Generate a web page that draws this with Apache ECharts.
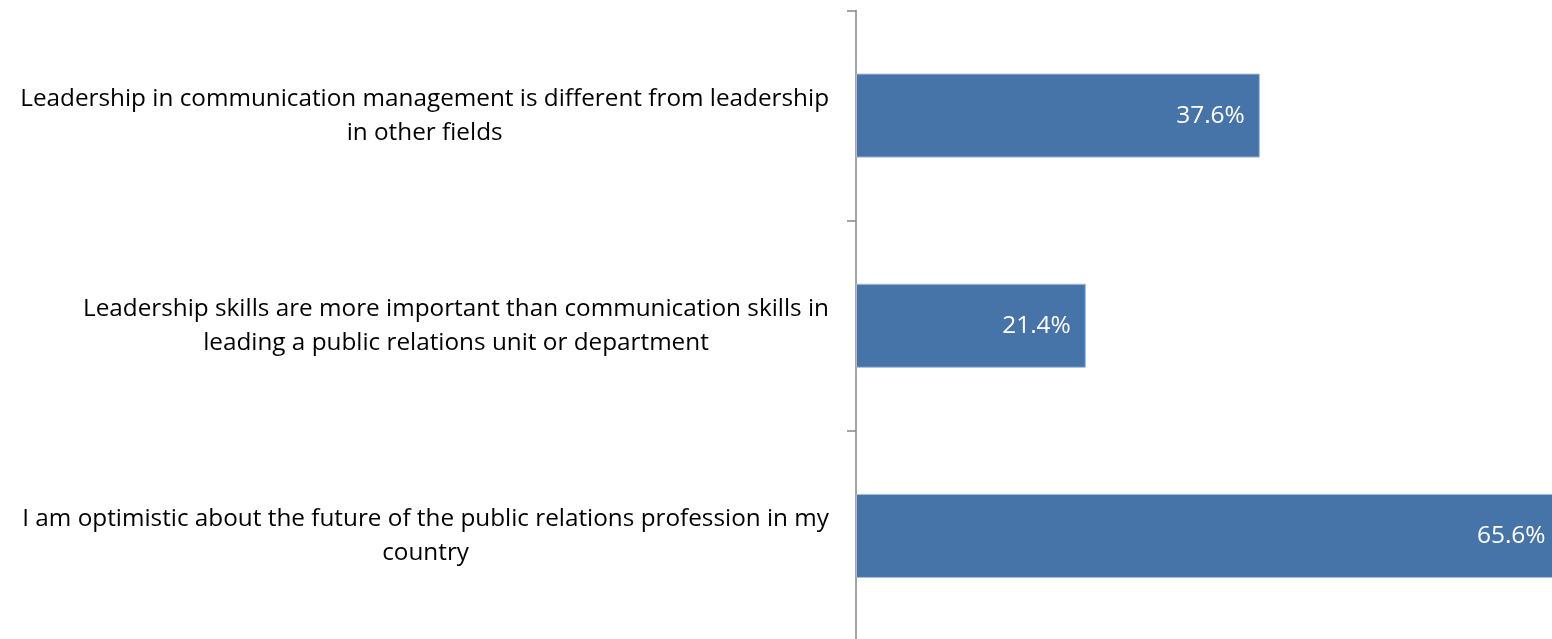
<!DOCTYPE html>
<html>
<head>
<meta charset="utf-8">
<script src="https://cdn.jsdelivr.net/npm/echarts@6/dist/echarts.min.js"></script>
<style>
  html, body { margin: 0; padding: 0; background: #ffffff; overflow: hidden; }
  #chart { width: 1552px; height: 641px; }
</style>
</head>
<body>
<div id="chart"></div>
<script>
// Survey statements (top to bottom) and share of agreement, in percent
const statements = [
  'Leadership in communication management is different from leadership\nin other fields',
  'Leadership skills are more important than communication skills in\nleading a public relations unit or department',
  'I am optimistic about the future of the public relations profession in my\ncountry'
];
const agreement = [37.6, 21.4, 65.6];

const FONT = '"Open Sans", "Liberation Sans", sans-serif';

const chart = echarts.init(document.getElementById('chart'), null, { renderer: 'canvas' });

chart.setOption({
  animation: false,
  backgroundColor: '#ffffff',
  grid: {
    left: 856,
    right: 0,
    top: 10.5,
    bottom: 0,
    containLabel: false
  },
  xAxis: {
    type: 'value',
    min: 0,
    max: 64.8,
    show: false
  },
  yAxis: {
    type: 'category',
    inverse: true,
    data: statements,
    axisLine: { show: true, lineStyle: { color: '#868686', width: 1.5 } },
    axisTick: { show: true, length: 9, lineStyle: { color: '#868686', width: 1.5 } },
    splitLine: { show: false },
    axisLabel: {
      margin: 27,
      align: 'right',
      fontFamily: FONT,
      fontSize: 24.3,
      color: '#000000',
      lineHeight: 34,
      formatter: function (value) {
        return value.split('\n').map(function (line) { return '{c|' + line + '}'; }).join('\n');
      },
      rich: {
        c: {
          align: 'center',
          fontFamily: FONT,
          fontSize: 24.3,
          lineHeight: 34,
          color: '#000000'
        }
      }
    }
  },
  series: [{
    type: 'bar',
    data: agreement,
    barWidth: '40%',
    clip: false,
    itemStyle: {
      color: '#4674A9',
      borderColor: '#A9BDDA',
      borderWidth: 1
    },
    label: {
      show: true,
      position: 'insideRight',
      distance: 15,
      fontFamily: FONT,
      fontSize: 24.5,
      color: '#ffffff',
      formatter: function (p) { return p.value.toFixed(1) + '%'; }
    }
  }]
});
</script>
</body>
</html>
